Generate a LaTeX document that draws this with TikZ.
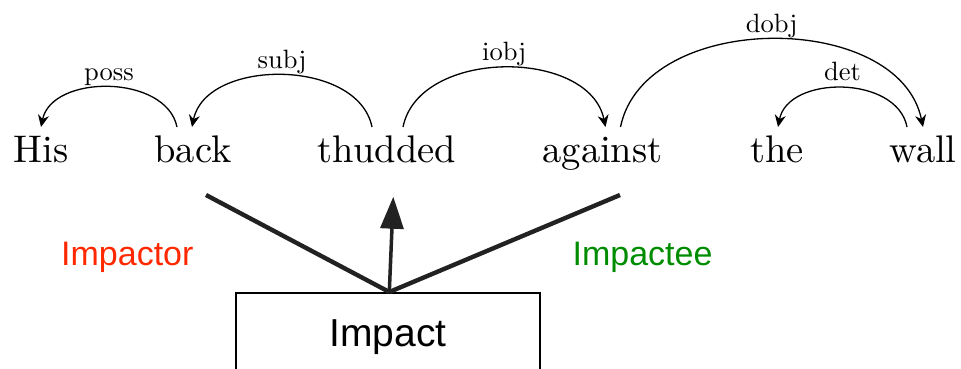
\documentclass[tikz,border=0pt]{standalone}
\usepackage{fontspec}
\setmainfont{lmroman10-regular}[Extension=.otf]
\newfontfamily\helv{Liberation Sans}
\usetikzlibrary{arrows.meta,calc}
\definecolor{ink}{HTML}{222222}
\definecolor{agentred}{RGB}{255,40,0}
\definecolor{patientgreen}{RGB}{0,140,0}
\begin{document}
\begin{tikzpicture}[x=1pt,y=-1pt,
  word/.style={inner sep=0pt, anchor=base, font=\fontsize{38.5}{40}\selectfont},
  deplabel/.style={inner sep=0pt, anchor=base, yshift=7pt, font=\fontsize{26.5}{28}\selectfont},
  dep/.style={line width=1.3pt, -{Stealth[length=12pt,width=11pt]}},
  role/.style={inner sep=0pt, anchor=base, font=\helv\fontsize{34}{36}\selectfont},
  bar/.style={line width=4.4pt, draw=ink},
]
\clip (0,0) rectangle (961,369);

% sentence
\node[word] (his)     at (41,162)    {His};
\node[word] (back)    at (193,162)   {back};
\node[word] (thudded) at (387,162)   {thudded};
\node[word] (against) at (602.5,162) {against};
\node[word] (the)     at (777,162)   {the};
\node[word] (wall)    at (923,162)   {wall};

% dependency arcs
\draw[dep] ([xshift=-16pt,yshift=35pt]back.base)
  .. controls +(-11,-53) and +(11,-53) .. ([yshift=35pt]his.base)
  node[deplabel, midway] {poss};
\draw[dep] ([xshift=-15pt,yshift=35pt]thudded.base)
  .. controls +(-14,-69) and +(14,-69) .. ([xshift=-1pt,yshift=35pt]back.base)
  node[deplabel, midway] {subj};
\draw[dep] ([xshift=16pt,yshift=35pt]thudded.base)
  .. controls +(16,-79) and +(-16,-79) .. ([xshift=3pt,yshift=35pt]against.base)
  node[deplabel, midway] {iobj};
\draw[dep] ([xshift=18pt,yshift=35pt]against.base)
  .. controls +(24,-117) and +(-24,-117) .. ([yshift=35pt]wall.base)
  node[deplabel, midway] {dobj};
\draw[dep] ([xshift=-16pt,yshift=35pt]wall.base)
  .. controls +(-10,-52) and +(10,-52) .. ([xshift=1pt,yshift=35pt]the.base)
  node[deplabel, midway] {det};

% frame box
\node[draw, line width=2pt, inner sep=0pt, minimum width=303.7pt, minimum height=106pt,
      text height=0pt, text depth=0pt, font=\helv\fontsize{39}{40}\selectfont]
  (impact) at (388,346) {Impact};

\coordinate (apex) at ([xshift=1.3pt]impact.north);
\coordinate (lt) at (206,195);
\coordinate (rt) at (620,195);
\coordinate (tip) at (393.3,196.7);

\draw[bar] (lt) -- (apex);
\draw[bar] (rt) -- (apex);
\draw[line width=3.5pt, draw=ink, fill=ink, -{Triangle[length=32pt,width=23pt]}] (apex) -- (tip);

% frame element labels
\node[role, text=agentred]     (impactor) at (127.3,265) {Impactor};
\node[role, text=patientgreen] (impactee) at (642.5,265) {Impactee};
\end{tikzpicture}
\end{document}
